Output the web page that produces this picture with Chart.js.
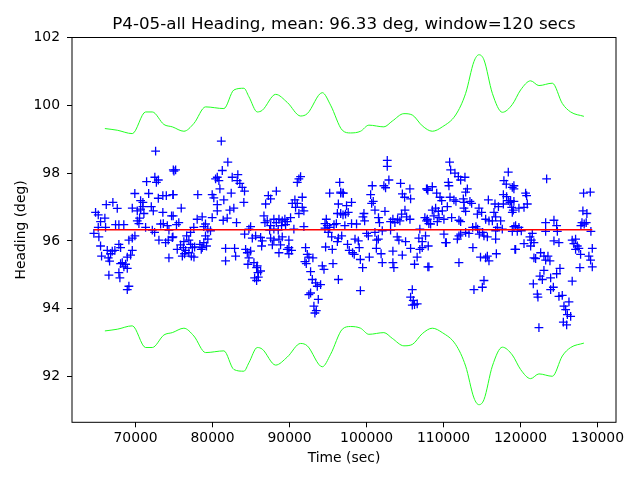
<!DOCTYPE html>
<html>
<head>
<meta charset="utf-8">
<script src="https://cdn.jsdelivr.net/npm/chart.js@4"></script>
<style>
  html, body { margin: 0; padding: 0; background: #fff; }
  canvas { display: block; }
</style>
</head>
<body>
<canvas id="headingChart" width="640" height="480"></canvas>
<script>
// Titulos
const TITLE = 'P4-05-all Heading, mean: 96.33 deg, window=120 secs';
const X_LABEL = 'Time (sec)';
const Y_LABEL = 'Heading (deg)';

// Ticks de los ejes
const X_TICKS = [70000, 80000, 90000, 100000, 110000, 120000, 130000];
const Y_TICKS = [92, 94, 96, 98, 100, 102];

// Media del rumbo
const MEAN_HEADING = 96.33;

const TIMES = [
    72600,74900,72500,72700,72950,71430,69900,71700,72950,73540,73990,74850,70650,70950,66190,67050,67620,69570,70220,70650,70950,71080,70520,72040,72300,73540,74670,64800,65150,66010,65450,67400,67830,68470,70220,70430,65150,66100,71300,72170,72470,64580,65230,73250,73600,74120,74330,74850,73030,73900,74240,69570,69130,69910,65450,67830,68050,66970,67310,66320,66750,65580,66450,66620,69570,69350,68920,74330,68050,68270,68700,68480,68920,67830,66530,67960,69130,68920,
    81130,81980,75200,74980,81260,80390,80820,80610,82550,83280,83200,83540,83850,84150,84060,80950,74880,78080,79950,80160,82420,81460,80610,75930,80610,82240,82760,79950,81380,81900,83110,78000,78650,79080,78860,74880,75610,75310,77560,77140,79380,79730,84940,84720,84160,85160,74770,76630,76270,76920,79080,79380,78860,78650,79210,75410,75840,76200,76490,77140,77370,77660,76920,76360,76070,77240,77580,78350,78530,81690,82860,81690,82990,84290,84510,84940,84720,84590,85370,85720,85890,85460,85720,
    91210,91000,91430,88280,87240,87540,86890,90350,90690,91000,91650,90780,91650,91860,91210,
    86670,87100,86800,87960,88280,88620,89050,89390,89700,90130,87540,88960,89480,87960,87410,88530,90560,91860,
    85590,86240,86450,87540,87960,88620,89050,89910,88830,86370,87760,89910,90260,89700,88620,89910,
    85800,86240,85940,
    92080,92300,92510,93030,91990,92170,
    94900,94600,95210,95770,96080,96210,96640,96940,96340,96640,96940,96510,95210,94770,94600,95030,95470,96340,96770,96210,
    94680,95550,95640,96340,92730,92950,94250,94470,93380,93600,94030,92510,92730,93730,93160,93470,93290,
    102690,102690,102900,102250,102470,100740,104420,105630,107790,107960,96970,96640,100530,104650,104940,105720,
    98050,97400,97620,97270,100870,100660,101090,102390,104990,105200,105640,104550,104030,104330,103680,107570,107790,108090,99660,99530,101550,101680,99750,103120,103420,98700,98050,97180,106920,
    100010,100230,98500,98930,101090,101310,101530,102040,103120,103980,104200,105070,106790,107230,107230,106920,105720,104640,103420,101890,100360,99190,99490,103420,103550,102040,106230,106570,107960,97530,97750,98180,98400,99050,101270,
    99200,105940,105720,106070,106230,106580,105940,
    110790,110920,111480,111920,112220,112780,118410,117840,118150,
    110620,110700,107890,108540,113090,112870,118930,119140,
    109110,109540,109760,110840,111350,111610,112570,112660,113430,113650,115820,116680,117770,118190,118410,118630,119140,118850,117770,117130,
    108540,108970,109320,109840,109410,108750,110490,111050,112000,112220,112870,112650,114600,114950,114390,115470,116550,116770,116340,117420,115900,107890,108320,109190,110050,
    113780,114210,114430,114640,115080,112000,112220,111790,110050,110360,112870,113300,115250,115690,116770,116980,117630,116770,119140,
    107660,108010,110260,113810,114800,115470,115900,115690,116860,119270,112000,108100,115250,115040,113950,
    123390,119140,120660,120790,120880,120450,119790,119060,118930,118710,
    128190,129060,128100,128620,127980,128270,127840,128530,129140,
    119360,119790,119580,120100,118930,
    123260,124340,124690,123260,124780,121530,121220,121400,121740,120450,119360,121310,124340,124990,
    126710,127150,126930,127370,127150,127580,127800,129320,128880,129100,129320,127710,126710,
    121740,121960,122610,123040,123260,123560,123820,123040,122520,122830,125120,124690,123910,124260,123910,121660,122180,122260,124990,125420,126290,125640,125860,126080,126510,125560,125990,122390
];
const HEADINGS = [
    98.65,98.1,97.88,97.73,97.8,97.75,97.4,97.4,97.26,97.34,97.34,97.37,97.19,97.14,97.07,97.14,96.96,96.97,96.89,96.94,97.01,96.81,96.67,97.01,96.89,96.84,96.74,96.84,96.77,96.67,96.57,96.48,96.48,96.48,96.59,96.51,96.4,96.4,96.4,96.32,96.25,96.22,96.12,96.5,96.51,96.45,96.32,96.12,96.02,95.95,96.02,96.08,96.02,96.15,95.85,95.9,95.8,95.7,95.72,95.72,95.62,95.55,95.5,95.4,95.72,95.58,95.52,95.5,95.33,95.36,95.31,95.23,95.19,95.06,94.99,94.91,94.66,94.56,
    98.95,98.33,98.1,98.06,98.08,97.83,97.78,97.88,97.88,97.96,97.78,97.7,97.58,97.47,97.14,97.54,97.37,97.37,97.37,97.27,97.41,97.21,97.07,96.97,96.89,96.91,96.97,96.69,96.61,96.67,96.54,96.64,96.71,96.5,96.42,96.74,96.54,96.48,96.4,96.25,96.35,96.3,96.42,96.35,96.2,96.08,96.1,96.15,95.98,96.02,96.15,96.05,95.95,95.8,95.85,95.75,95.88,95.8,95.72,95.9,95.8,95.82,95.65,95.62,95.55,95.55,95.52,95.9,95.75,95.78,95.78,95.41,95.55,95.75,95.65,95.7,95.5,95.31,95.36,95.21,95.06,94.91,94.83,
    97.83,97.73,97.9,97.47,97.34,97.24,97.09,97.11,97.21,97.11,97.29,96.99,96.99,96.89,96.81,
    96.74,96.59,96.54,96.64,96.54,96.64,96.59,96.64,96.57,96.69,96.45,96.45,96.48,96.35,96.32,96.32,96.35,96.42,
    96.15,96.1,96.0,96.08,96.02,96.05,96.12,96.02,95.88,95.85,95.88,95.8,95.72,95.75,95.65,95.62,
    95.26,95.11,94.93,
    95.8,95.6,95.52,95.5,95.39,95.33,
    96.45,96.38,96.4,96.48,96.51,96.81,96.81,96.77,97.09,97.41,97.41,97.73,97.41,96.64,96.51,96.25,96.12,96.08,96.15,95.98,
    95.82,95.75,95.33,94.86,95.09,94.86,95.26,95.16,94.76,94.66,94.71,94.41,94.46,94.27,94.07,93.94,93.87,
    98.38,98.2,97.8,97.63,97.57,97.63,97.7,97.54,97.54,97.49,97.41,97.44,97.37,97.39,97.29,97.24,
    97.14,97.04,96.84,96.79,97.17,97.11,96.91,96.87,96.91,96.71,96.64,96.79,96.64,96.59,96.54,96.69,96.59,96.51,96.81,96.71,96.69,96.54,96.59,96.57,96.64,96.5,96.51,96.45,96.35,
    96.22,96.15,96.05,96.0,96.25,96.02,96.05,96.3,96.32,96.12,96.02,95.98,96.08,95.98,95.8,95.75,95.78,95.58,95.7,95.62,95.52,95.45,95.21,95.36,95.21,95.36,95.31,95.52,95.23,95.9,95.72,95.65,95.6,95.8,95.78,
    94.53,94.56,94.34,94.24,94.12,94.14,94.1,
    98.33,98.1,98.0,97.9,97.8,97.88,98.03,97.78,97.68,
    97.73,97.63,97.54,97.6,97.54,97.44,97.58,97.54,
    97.41,97.29,97.19,97.29,97.21,97.17,97.24,97.14,97.17,97.11,97.21,97.09,97.37,97.31,97.19,97.14,97.17,96.99,97.09,97.01,
    96.91,96.97,96.87,96.89,96.69,96.74,97.01,96.69,96.61,96.57,96.87,96.97,96.97,96.84,96.79,96.64,96.84,96.71,96.59,96.59,96.59,96.64,96.5,96.57,96.64,
    96.4,96.42,96.35,96.2,96.25,96.15,96.2,96.05,96.2,95.95,96.25,96.22,96.15,96.12,96.3,96.4,96.35,96.05,96.42,
    96.15,95.85,95.95,95.8,95.52,95.5,95.41,95.55,95.62,95.75,95.36,95.23,94.83,94.63,94.56,
    97.83,97.63,97.41,97.34,97.09,96.99,96.97,96.91,96.84,97.19,
    97.41,97.44,96.89,96.81,96.54,96.5,96.45,96.54,96.28,
    96.45,96.4,96.28,96.3,96.28,
    96.54,96.61,96.45,96.28,96.28,96.22,96.12,96.02,95.95,95.92,95.75,95.85,96.0,95.95,
    96.02,96.05,95.92,95.85,95.75,95.78,95.6,95.78,95.55,95.43,95.23,95.21,94.81,
    95.5,95.48,95.65,95.55,95.43,95.55,95.41,95.13,94.96,94.86,95.19,95.03,94.91,94.63,94.56,94.73,94.43,94.34,94.36,94.39,94.2,94.07,93.97,93.82,93.77,93.6,93.52,93.44
];

// Envolvente de la ventana movil (media +/- banda)
const ENV_TIMES = [66010,67620,69570,71300,72170,73680,74770,76270,77570,79090,81470,82770,84070,84720,85810,86460,88190,89710,91430,92300,94250,95330,96850,97920,99220,100300,102250,103340,104850,105940,107240,108540,109840,111570,112870,113950,114600,115250,116340,117640,118930,120010,121310,122390,124130,125430,126510,128230];
const ENV_UPPER = [99.32,99.27,99.17,99.81,99.81,99.44,99.37,99.24,99.47,99.96,99.91,100.46,100.51,100.26,99.81,99.86,100.33,100.09,99.69,99.76,100.38,100.01,99.27,99.19,99.24,99.42,99.37,99.54,99.76,99.72,99.40,99.24,99.37,99.72,100.36,101.30,101.50,101.35,100.36,99.80,100.03,100.46,100.73,100.59,100.66,100.06,99.81,99.68];
const ENV_LOWER = [93.34,93.39,93.49,92.85,92.85,93.22,93.29,93.42,93.19,92.70,92.75,92.20,92.15,92.40,92.85,92.80,92.33,92.57,92.97,92.90,92.28,92.65,93.39,93.47,93.42,93.24,93.29,93.12,92.90,92.94,93.26,93.42,93.29,92.94,92.30,91.36,91.16,91.31,92.30,92.86,92.63,92.20,91.93,92.07,92.00,92.60,92.85,92.98];

const FONT = 'DejaVu Sans';

document.addEventListener('DOMContentLoaded', function() {
    const points = TIMES.map((t, i) => ({ x: t, y: HEADINGS[i] }));
    const meanLine = [
        { x: Math.min(...TIMES), y: MEAN_HEADING },
        { x: Math.max(...TIMES), y: MEAN_HEADING }
    ];
    const upper = ENV_TIMES.map((t, i) => ({ x: t, y: ENV_UPPER[i] }));
    const lower = ENV_TIMES.map((t, i) => ({ x: t, y: ENV_LOWER[i] }));

    // Marco completo y titulo estilo matplotlib
    const framePlugin = {
        id: 'frame',
        afterDraw(chart) {
            const { ctx, chartArea: a } = chart;
            ctx.save();
            ctx.strokeStyle = '#000';
            ctx.lineWidth = 1;
            ctx.strokeRect(a.left, a.top, a.right - a.left, a.bottom - a.top);
            ctx.fillStyle = '#000';
            ctx.font = '16.7px "' + FONT + '"';
            ctx.textAlign = 'center';
            ctx.textBaseline = 'alphabetic';
            ctx.fillText(TITLE, (a.left + a.right) / 2, a.top - 8.5);
            ctx.restore();
        }
    };

    const tickGrid = {
        display: true,
        drawOnChartArea: false,
        drawTicks: true,
        tickLength: 5,
        tickColor: '#000',
        color: '#000'
    };

    new Chart(document.getElementById('headingChart'), {
        type: 'scatter',
        data: {
            datasets: [{
                label: 'mean',
                type: 'line',
                order: 0,
                data: meanLine,
                borderColor: '#ff0000',
                borderWidth: 1.3,
                pointRadius: 0,
                fill: false
            }, {
                label: 'upper',
                type: 'line',
                order: 1,
                data: upper,
                borderColor: '#22ff22',
                borderWidth: 1,
                pointRadius: 0,
                cubicInterpolationMode: 'monotone',
                fill: false
            }, {
                label: 'lower',
                type: 'line',
                order: 1,
                data: lower,
                borderColor: '#22ff22',
                borderWidth: 1,
                pointRadius: 0,
                cubicInterpolationMode: 'monotone',
                fill: false
            }, {
                label: 'heading',
                order: 2,
                data: points,
                pointStyle: 'cross',
                pointRadius: 4.4,
                borderColor: '#0000ff',
                backgroundColor: '#0000ff',
                borderWidth: 1.3
            }]
        },
        options: {
            responsive: false,
            animation: false,
            layout: { padding: { left: 0, right: 24, top: 37.5, bottom: 0 } },
            plugins: {
                legend: { display: false },
                tooltip: { enabled: false }
            },
            scales: {
                x: {
                    type: 'linear',
                    min: 61740,
                    max: 132400,
                    border: { display: false },
                    grid: tickGrid,
                    afterFit: function(scale) { scale.height = 57.7; },
                    afterBuildTicks: function(scale) {
                        scale.ticks = X_TICKS.map(v => ({ value: v }));
                    },
                    ticks: {
                        color: '#000',
                        padding: 3,
                        maxRotation: 0,
                        font: { family: FONT, size: 13.9 },
                        callback: function(value) { return String(value); }
                    },
                    title: {
                        display: true,
                        text: X_LABEL,
                        color: '#000',
                        font: { family: FONT, size: 13.9 },
                        padding: { top: 0, bottom: 13.7 }
                    }
                },
                y: {
                    type: 'linear',
                    min: 90.64,
                    max: 102.01,
                    border: { display: false },
                    grid: tickGrid,
                    afterFit: function(scale) { scale.width = 72; },
                    afterBuildTicks: function(scale) {
                        scale.ticks = Y_TICKS.map(v => ({ value: v }));
                    },
                    ticks: {
                        color: '#000',
                        padding: 7,
                        font: { family: FONT, size: 13.9 },
                        callback: function(value) { return String(value); }
                    },
                    title: {
                        display: true,
                        text: Y_LABEL,
                        color: '#000',
                        font: { family: FONT, size: 13.9 },
                        padding: { top: 12.7, bottom: 0 }
                    }
                }
            }
        },
        plugins: [framePlugin]
    });
});
</script>
</body>
</html>
